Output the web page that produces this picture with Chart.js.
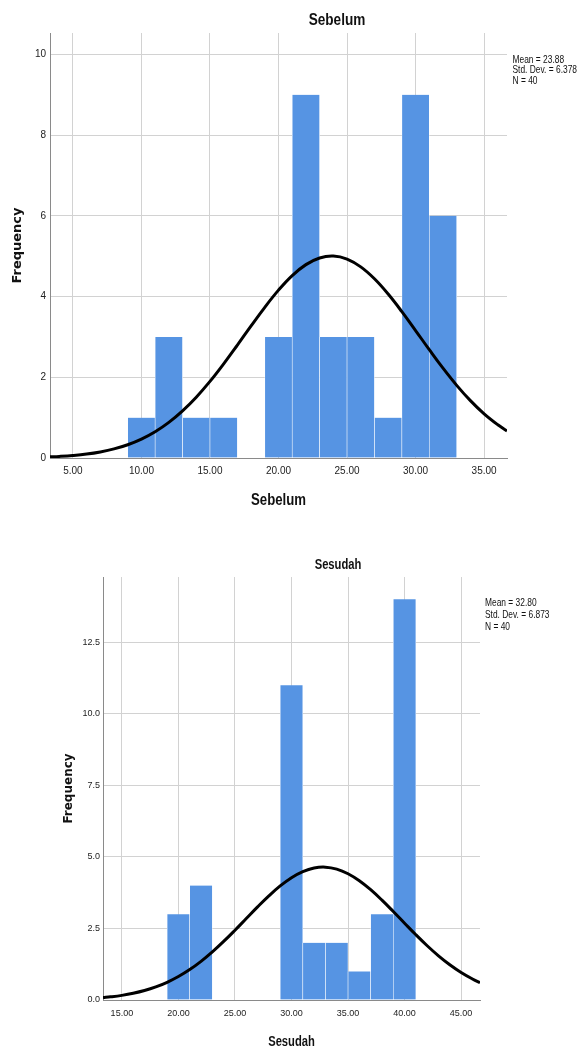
<!DOCTYPE html>
<html><head><meta charset="utf-8">
<script src="https://cdn.jsdelivr.net/npm/chart.js@4/dist/chart.umd.min.js"></script>
<style>
html,body{margin:0;padding:0;background:#fff;width:587px;height:1049px;overflow:hidden;}
canvas{position:absolute;left:0;}
#c1{top:0;} #c2{top:540px;}
</style></head><body>
<canvas id="c1" width="587" height="520"></canvas>
<canvas id="c2" width="587" height="509"></canvas>
<script>
// ---------- Sebelum ----------
const sebelumBinCenters = [10, 12, 14, 16, 20, 22, 24, 26, 28, 30, 32];
const sebelumCounts     = [1, 3, 1, 1, 3, 9, 3, 3, 1, 9, 6];
const sebelumCurveX = [3.33, 4, 5, 6, 7, 8, 9, 10, 11, 12, 13, 14, 15, 16, 17, 18, 19, 20, 21, 22, 23, 24, 25, 26, 27, 28, 29, 30, 31, 32, 33, 34, 35, 36, 36.67];
const sebelumCurveY = [0.028, 0.039, 0.063, 0.098, 0.151, 0.225, 0.329, 0.469, 0.651, 0.883, 1.168, 1.507, 1.898, 2.333, 2.797, 3.272, 3.734, 4.159, 4.519, 4.791, 4.956, 5.003, 4.928, 4.735, 4.440, 4.062, 3.626, 3.158, 2.684, 2.225, 1.800, 1.421, 1.094, 0.823, 0.670];
const sebelumXTicks = [5, 10, 15, 20, 25, 30, 35];
const sebelumYTicks = [0, 2, 4, 6, 8, 10];
const sebelumStats  = ['Mean = 23.88', 'Std. Dev. = 6.378', 'N = 40'];

// ---------- Sesudah ----------
const sesudahBinCenters = [20, 22, 30, 32, 34, 36, 38, 40];
const sesudahCounts     = [3, 4, 11, 2, 2, 1, 3, 14];
const sesudahCurveX = [13.33, 14, 15, 16, 17, 18, 19, 20, 21, 22, 23, 24, 25, 26, 27, 28, 29, 30, 31, 32, 33, 34, 35, 36, 37, 38, 39, 40, 41, 42, 43, 44, 45, 46, 46.67];
const sesudahCurveY = [0.084, 0.110, 0.162, 0.234, 0.330, 0.457, 0.619, 0.820, 1.064, 1.351, 1.680, 2.046, 2.439, 2.846, 3.253, 3.639, 3.985, 4.274, 4.487, 4.613, 4.642, 4.574, 4.412, 4.167, 3.853, 3.488, 3.092, 2.683, 2.279, 1.896, 1.544, 1.231, 0.961, 0.735, 0.606];
const sesudahXTicks = [15, 20, 25, 30, 35, 40, 45];
const sesudahYTicks = [0, 2.5, 5, 7.5, 10, 12.5];
const sesudahStats  = ['Mean = 32.80', 'Std. Dev. = 6.873', 'N = 40'];

const SANS = "'Liberation Sans', Arial, sans-serif";
const BAR = '#5694E3';
const SQUEEZE = 0.8;

function squeezedText(ctx, t, x, y, align) {
  const w = ctx.measureText(t).width * SQUEEZE;
  let sx = x;
  if (align === 'center') sx = x - w / 2;
  ctx.textAlign = 'left';
  ctx.fillText(t, sx, y, w);
}

const textPlugin = {
  id: 'chartText',
  afterDraw(chart, args, o) {
    const ctx = chart.ctx;
    const ca = chart.chartArea;
    ctx.save();
    ctx.fillStyle = '#111';
    ctx.textBaseline = 'middle';
    ctx.font = o.titleFont;
    squeezedText(ctx, o.title, o.titleX, o.titleY, 'center');
    ctx.font = o.axisFont;
    squeezedText(ctx, o.axisTitle, (ca.left + ca.right) / 2, o.axisY, 'center');
    ctx.font = o.linesFont;
    o.lines.forEach((t, i) => squeezedText(ctx, t, o.linesX, o.linesY + i * o.linesStep, 'left'));
    ctx.restore();
  }
};

function makeChart(id, p) {
  const ctx = document.getElementById(id);
  return new Chart(ctx, {
    type: 'bar',
    data: {
      datasets: [
        {
          type: 'line',
          data: p.curveX.map((x, i) => ({x: x, y: p.curveY[i]})),
          borderColor: '#000',
          borderWidth: 3,
          pointRadius: 0,
          tension: 0.4,
          fill: false,
          order: 0
        },
        {
          type: 'bar',
          data: p.centers.map((c, i) => ({x: c, y: p.counts[i]})),
          backgroundColor: BAR,
          borderColor: 'rgba(255,255,255,0.9)',
          borderWidth: {left: 0.6, right: 0.6, top: 0, bottom: 0},
          borderSkipped: false,
          barPercentage: 1,
          categoryPercentage: 1,
          order: 1
        }
      ]
    },
    options: {
      responsive: false,
      devicePixelRatio: 1,
      animation: false,
      layout: {padding: {top: p.padTop, right: p.padRight, left: 0, bottom: 0}},
      plugins: {
        legend: {display: false},
        tooltip: {enabled: false},
        chartText: p.text
      },
      scales: {
        x: {
          type: 'linear',
          min: p.xMin, max: p.xMax,
          offset: false,
          afterFit: s => { s.height = p.xHeight; },
          afterBuildTicks: s => { s.ticks = p.xTicks.map(v => ({value: v})); },
          grid: {color: '#d2d2d2', lineWidth: 1, drawTicks: false, offset: false},
          border: {color: '#8a8a8a', width: 1},
          ticks: {
            padding: p.xTickPad, color: '#222', maxRotation: 0, autoSkip: false,
            font: {family: SANS, size: p.tickSize},
            callback: v => Number(v).toFixed(2)
          },
          title: {display: false, text: p.text.axisTitle}
        },
        y: {
          type: 'linear',
          min: 0, max: p.yMax,
          afterFit: s => { s.width = p.yWidth; },
          afterBuildTicks: s => { s.ticks = p.yTicks.map(v => ({value: v})); },
          grid: {color: '#d2d2d2', lineWidth: 1, drawTicks: false},
          border: {color: '#8a8a8a', width: 1},
          ticks: {
            padding: p.yTickPad, color: '#222', autoSkip: false,
            font: {family: SANS, size: p.tickSize},
            callback: p.yFmt
          },
          title: {
            display: true, text: 'Frequency', color: '#111',
            font: {family: "'DejaVu Sans', Verdana, sans-serif", size: p.yTitleSize, weight: 'bold'},
            padding: {top: p.yTitlePad, bottom: 0}
          }
        }
      }
    },
    plugins: [textPlugin]
  });
}

makeChart('c1', {
  centers: sebelumBinCenters, counts: sebelumCounts,
  curveX: sebelumCurveX, curveY: sebelumCurveY,
  xTicks: sebelumXTicks, yTicks: sebelumYTicks,
  xMin: 3.33, xMax: 36.67, yMax: 10.53,
  padTop: 33, padRight: 80, xHeight: 62, yWidth: 50,
  tickSize: 10, xTickPad: 7, yTickPad: 4,
  yTitleSize: 13, yTitlePad: 10,
  yFmt: v => String(v),
  text: {
    title: 'Sebelum', titleFont: "bold 17px " + SANS, titleX: 337, titleY: 20,
    axisTitle: 'Sebelum', axisFont: "bold 16.5px " + SANS, axisY: 500,
    lines: sebelumStats, linesFont: "10.5px " + SANS, linesX: 512.5, linesY: 60, linesStep: 10.5
  }
});

makeChart('c2', {
  centers: sesudahBinCenters, counts: sesudahCounts,
  curveX: sesudahCurveX, curveY: sesudahCurveY,
  xTicks: sesudahXTicks, yTicks: sesudahYTicks,
  xMin: 13.33, xMax: 46.67, yMax: 14.78,
  padTop: 37, padRight: 107, xHeight: 49, yWidth: 103,
  tickSize: 9, xTickPad: 8, yTickPad: 3,
  yTitleSize: 12, yTitlePad: 62,
  yFmt: v => Number(v).toFixed(1),
  text: {
    title: 'Sesudah', titleFont: "bold 14px " + SANS, titleX: 338, titleY: 25,
    axisTitle: 'Sesudah', axisFont: "bold 14px " + SANS, axisY: 502,
    lines: sesudahStats, linesFont: "10.5px " + SANS, linesX: 485, linesY: 63.5, linesStep: 11.6
  }
});
</script>
</body></html>
